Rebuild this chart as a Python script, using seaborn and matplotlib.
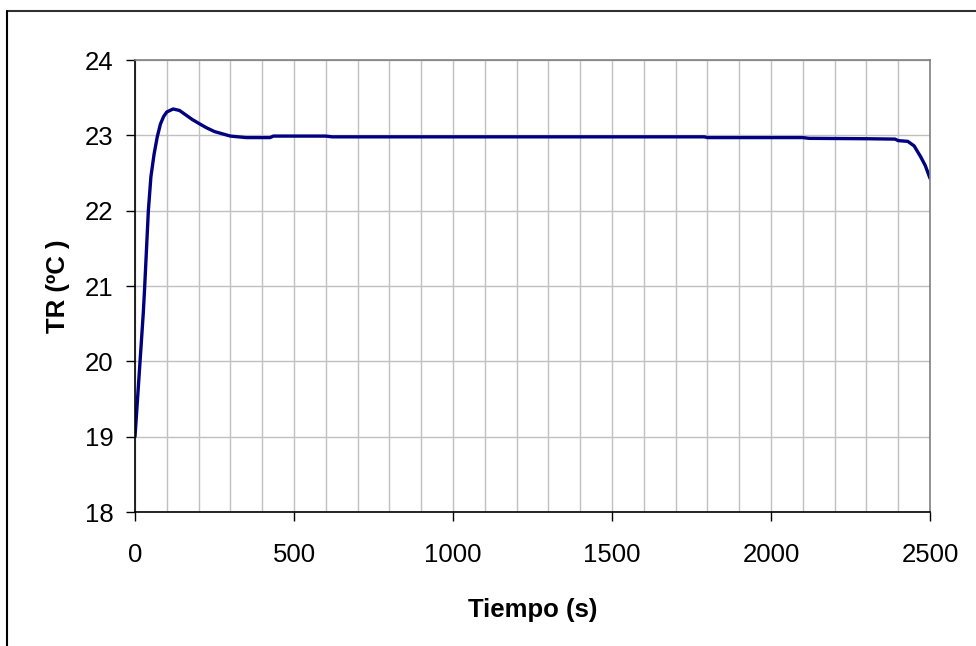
import matplotlib
matplotlib.use("Agg")
import matplotlib.pyplot as plt
from matplotlib.lines import Line2D
from matplotlib.ticker import MultipleLocator
import seaborn as sns

# Reactor temperature response over time
tiempo = [0, 10, 20, 26, 30, 42, 50, 60, 70, 80, 90, 100, 120, 140, 160, 180,
          200, 225, 250, 275, 300, 325, 350, 425, 435, 600, 620, 1790, 1800,
          2100, 2120, 2300, 2390, 2400, 2430, 2450, 2470, 2485, 2500]
temperatura = [19.0, 19.63, 20.26, 20.64, 20.95, 22.0, 22.45, 22.75, 22.98,
               23.15, 23.25, 23.31, 23.35, 23.33, 23.27, 23.21, 23.16, 23.10,
               23.05, 23.02, 22.99, 22.98, 22.97, 22.97, 22.99, 22.99, 22.98,
               22.98, 22.97, 22.97, 22.96, 22.955, 22.95, 22.93, 22.92, 22.86,
               22.72, 22.60, 22.43]

x_ticks = [0, 500, 1000, 1500, 2000, 2500]
y_ticks = [18, 19, 20, 21, 22, 23, 24]

sns.set_theme(style="white")
plt.rcParams["font.family"] = ["Liberation Sans", "DejaVu Sans"]

W, H = 976, 646
fig = plt.figure(figsize=(W / 100, H / 100), dpi=100)
ax = fig.add_axes([135 / W, 1 - 512 / H, (930 - 135) / W, (512 - 60) / H])

sns.lineplot(x=tiempo, y=temperatura, ax=ax, color="#000080", linewidth=2.4,
             sort=False)

ax.set_xlim(0, 2500)
ax.set_ylim(18, 24)
ax.set_xticks(x_ticks)
ax.set_yticks(y_ticks)
ax.xaxis.set_minor_locator(MultipleLocator(100))
ax.grid(True, which="both", color="#c0c0c0", linewidth=1.0)
ax.set_axisbelow(True)

ax.tick_params(axis="both", which="major", direction="out", length=6.5,
               width=1.0, color="black", labelsize=18.5, labelcolor="black")
ax.tick_params(axis="x", which="major", pad=16)
ax.tick_params(axis="y", which="major", pad=9, left=True)
ax.tick_params(axis="x", bottom=True)
ax.tick_params(which="minor", length=0)

for side in ("left", "bottom"):
    ax.spines[side].set_color("black")
    ax.spines[side].set_linewidth(1.2)
for side in ("top", "right"):
    ax.spines[side].set_color("#808080")
    ax.spines[side].set_linewidth(1.2)

ax.set_xlabel("Tiempo (s)", fontsize=18.5, fontweight="bold", color="black")
ax.set_ylabel("TR (ºC )", fontsize=18.5, fontweight="bold", color="black")
ax.xaxis.set_label_coords(0.5, (512 - 598) / 452)
ax.yaxis.set_label_coords((70 - 135) / 795, 0.5)

# chart frame
fig.add_artist(Line2D([7 / W, 1], [1 - 11 / H, 1 - 11 / H],
                      transform=fig.transFigure, color="#303030", linewidth=1.5))
fig.add_artist(Line2D([7 / W, 7 / W], [0, 1 - 11 / H],
                      transform=fig.transFigure, color="black", linewidth=1.5))

fig.savefig("out.png", dpi=100, facecolor="white")
